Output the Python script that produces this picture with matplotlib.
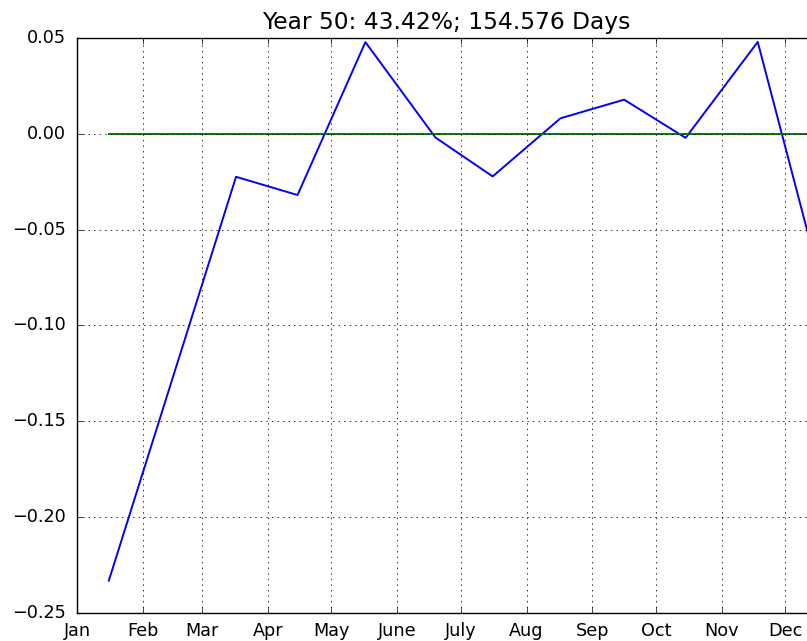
"""Monthly deviation for year 50, drawn in the classic matplotlib look."""

import matplotlib

matplotlib.use("Agg")
import matplotlib.pyplot as plt
import numpy as np

# sample dates (mid-month) and deviation values
sample_dates = np.array(
    [
        "2001-01-16",
        "2001-03-17",
        "2001-04-15",
        "2001-05-17",
        "2001-06-19",
        "2001-07-16",
        "2001-08-17",
        "2001-09-16",
        "2001-10-15",
        "2001-11-18",
        "2001-12-15",
    ],
    dtype="datetime64[D]",
)
deviation = [-0.233, -0.0225, -0.032, 0.0477, -0.002, -0.0223, 0.008, 0.0177, -0.0022, 0.0478, -0.066]
baseline = [0.0] * len(sample_dates)

month_starts = np.arange("2001-01", "2002-01", dtype="datetime64[M]").astype("datetime64[D]")
month_labels = ["Jan", "Feb", "Mar", "Apr", "May", "June", "July", "Aug", "Sep", "Oct", "Nov", "Dec"]
y_ticks = [-0.25, -0.20, -0.15, -0.10, -0.05, 0.00, 0.05]
title_text = "Year 50: 43.42%; 154.576 Days"


def main() -> None:
    plt.style.use("classic")
    plt.rcParams["font.family"] = "DejaVu Sans"

    fig = plt.figure(figsize=(8.07, 6.41), dpi=100, facecolor="white")
    # the right spine falls just outside the saved picture
    ax = fig.add_axes([0.0954, 0.0432, 0.9145, 0.898])

    ax.plot(sample_dates, deviation, color="b", lw=1.4)
    ax.plot(sample_dates, baseline, color="g", lw=1.4)

    ax.set_xlim(np.datetime64("2001-01-01"), np.datetime64("2001-12-15"))
    ax.set_ylim(-0.25, 0.05)
    ax.set_xticks(month_starts)
    ax.set_xticklabels(month_labels)
    ax.set_yticks(y_ticks)
    ax.set_yticklabels([f"{v:.2f}".replace("-", "\u2212") for v in y_ticks])
    ax.tick_params(labelsize=12.7, direction="in", length=4)
    ax.tick_params(axis="y", pad=8)
    ax.tick_params(axis="x", pad=6)
    ax.grid(True, color="black", ls=":", lw=0.7, alpha=0.85)
    ax.set_title(title_text, fontsize=16.8, pad=6)

    fig.savefig("out.png", dpi=100, facecolor="white")
    plt.close(fig)


if __name__ == "__main__":
    main()
